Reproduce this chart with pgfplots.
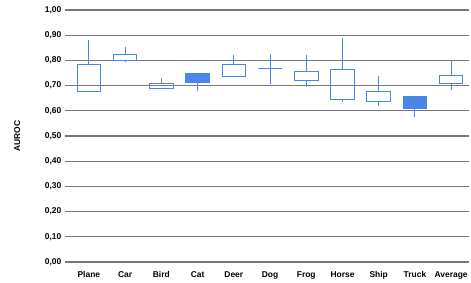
\documentclass[border=0pt]{standalone}
\usepackage{pgfplots}
\pgfplotsset{compat=1.18}
\usepgfplotslibrary{statistics}
\usepackage{fontspec}
\setmainfont{Liberation Sans}
\definecolor{bx}{RGB}{74,134,232}
\definecolor{gr}{RGB}{120,120,120}
\begin{document}
\begin{tikzpicture}
\begin{axis}[
  scale only axis, width=400bp, height=253bp,
  xmin=-0.5, xmax=10.5, ymin=0, ymax=1,
  xtick={0,1,2,3,4,5,6,7,8,9,10},
  xticklabels={Plane,Car,Bird,Cat,Deer,Dog,Frog,Horse,Ship,Truck,Average},
  ytick={0,0.1,0.2,0.3,0.4,0.5,0.6,0.7,0.8,0.9,1.0},
  ymajorgrids, grid style={gr, line width=1.3pt},
  axis line style={draw=none},
  x tick style={draw=none},
  y tick style={gr, line width=1.3pt},
  tick align=outside, ytick pos=left, major tick length=6bp,
  ticklabel style={font=\fontsize{8.5}{10}\selectfont\bfseries},
  yticklabel style={/pgf/number format/.cd, fixed, fixed zerofill, precision=2, use comma, assume math mode=true},
  ylabel={AUROC}, ylabel style={font=\fontsize{8.5}{10}\selectfont\bfseries},
  ylabel shift=18bp,
  boxplot/draw direction=y,
  boxplot/box extend=0.65,
  boxplot/whisker extend=0,
  boxplot/draw/median/.code={},
  boxplot/every whisker/.style={draw=bx, line width=1pt},
  boxplot/every box/.style={draw=bx, line width=1pt},
  bs/.style={draw=bx, line width=1pt, solid, no marks},
]
% Plane
\addplot[bs, boxplot prepared={draw position=0, lower whisker=0.675, lower quartile=0.675, median=0.675, upper quartile=0.782, upper whisker=0.882}] coordinates {};
% Car
\addplot[bs, boxplot prepared={draw position=1, lower whisker=0.794, lower quartile=0.801, median=0.801, upper quartile=0.825, upper whisker=0.855}] coordinates {};
% Bird
\addplot[bs, boxplot prepared={draw position=2, lower whisker=0.688, lower quartile=0.688, median=0.688, upper quartile=0.709, upper whisker=0.729}] coordinates {};
% Cat (filled)
\addplot[bs, fill=bx, boxplot prepared={draw position=3, lower whisker=0.679, lower quartile=0.712, median=0.712, upper quartile=0.747, upper whisker=0.751}] coordinates {};
% Deer
\addplot[bs, boxplot prepared={draw position=4, lower whisker=0.736, lower quartile=0.736, median=0.736, upper quartile=0.782, upper whisker=0.820}] coordinates {};
% Dog
\addplot[bs, boxplot prepared={draw position=5, lower whisker=0.708, lower quartile=0.768, median=0.768, upper quartile=0.768, upper whisker=0.825}] coordinates {};
% Frog
\addplot[bs, boxplot prepared={draw position=6, lower whisker=0.695, lower quartile=0.721, median=0.721, upper quartile=0.756, upper whisker=0.820}] coordinates {};
% Horse
\addplot[bs, boxplot prepared={draw position=7, lower whisker=0.636, lower quartile=0.643, median=0.643, upper quartile=0.764, upper whisker=0.890}] coordinates {};
% Ship
\addplot[bs, boxplot prepared={draw position=8, lower whisker=0.621, lower quartile=0.636, median=0.636, upper quartile=0.678, upper whisker=0.738}] coordinates {};
% Truck (filled)
\addplot[bs, fill=bx, boxplot prepared={draw position=9, lower whisker=0.575, lower quartile=0.610, median=0.610, upper quartile=0.656, upper whisker=0.656}] coordinates {};
% Average
\addplot[bs, boxplot prepared={draw position=10, lower whisker=0.682, lower quartile=0.708, median=0.708, upper quartile=0.740, upper whisker=0.796}] coordinates {};
\end{axis}
\path (current axis.south west) ++(-71bp,-16bp);
\path (current axis.north east) ++(0,10bp);
\end{tikzpicture}
\end{document}
